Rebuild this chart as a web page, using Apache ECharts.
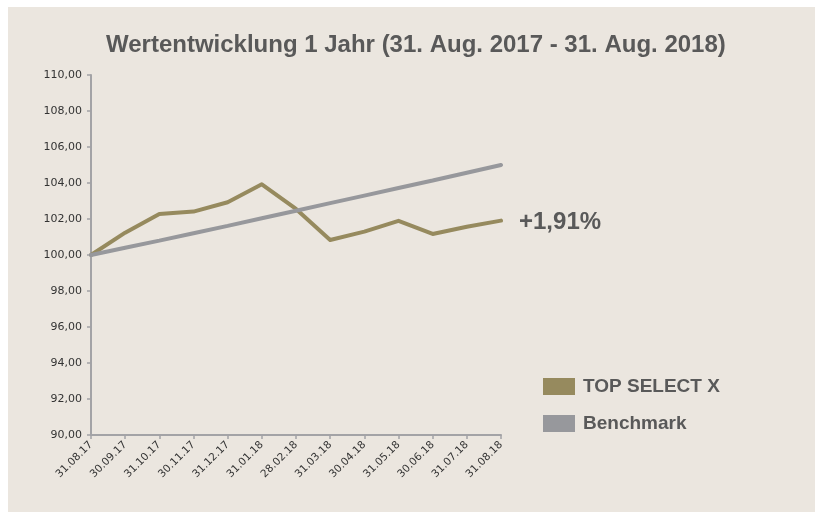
<!DOCTYPE html>
<html>
<head>
<meta charset="utf-8">
<script src="https://cdn.jsdelivr.net/npm/echarts@6/dist/echarts.min.js"></script>
<style>
	html, body { margin: 0; padding: 0; background: #ffffff; }
	#bg { position: absolute; left: 8px; top: 7px; width: 807px; height: 505px; background: #ebe6df; }
	#chart { position: absolute; left: 0; top: 0; width: 815px; height: 512px; }
</style>
</head>
<body>
<div id="bg"></div>
<div id="chart"></div>
<script>
var dates = ['31.08.17', '30.09.17', '31.10.17', '30.11.17', '31.12.17', '31.01.18', '28.02.18',
	'31.03.18', '30.04.18', '31.05.18', '30.06.18', '31.07.18', '31.08.18'];
var fundValues = [100.00, 101.24, 102.28, 102.41, 102.93, 103.93, 102.56, 100.83, 101.30, 101.90, 101.17, 101.57, 101.91];
var benchValues = [100.00, 100.40, 100.80, 101.21, 101.62, 102.04, 102.46, 102.88, 103.30, 103.72, 104.14, 104.57, 105.00];
var yTicks = [90, 92, 94, 96, 98, 100, 102, 104, 106, 108, 110];
var seriesNames = ['TOP SELECT X', 'Benchmark'];
var endText = '+1,91%';

var chart = echarts.init(document.getElementById('chart'));
var option = {
	animation: false,
	title: {
		text: 'Wertentwicklung 1 Jahr (31. Aug. 2017 - 31. Aug. 2018)',
		left: 101,
		top: 28,
		textStyle: {
			color: '#595959',
			fontFamily: 'Liberation Sans',
			fontWeight: 'bold',
			fontSize: 24
		}
	},
	legend: {
		orient: 'vertical',
		left: 538,
		top: 372,
		itemWidth: 32,
		itemHeight: 17,
		itemGap: 18,
		icon: 'rect',
		data: seriesNames,
		textStyle: {
			color: '#595959',
			fontFamily: 'Liberation Sans',
			fontWeight: 'bold',
			fontSize: 19,
			padding: [0, 0, 0, 3]
		}
	},
	grid: {
		left: 91,
		top: 75,
		width: 410,
		height: 360,
		containLabel: false
	},
	xAxis: {
		type: 'category',
		boundaryGap: false,
		data: dates,
		axisLine: { lineStyle: { color: '#a3a3a6', width: 2 } },
		axisTick: { show: true, length: 4, lineStyle: { color: '#a3a3a6', width: 1.5 } },
		axisLabel: {
			rotate: 45,
			interval: 0,
			color: '#333333',
			fontFamily: 'DejaVu Sans',
			fontSize: 10.5,
			margin: 8
		}
	},
	yAxis: {
		type: 'value',
		min: 90,
		max: 110,
		interval: 2,
		splitLine: { show: false },
		axisLine: { show: true, lineStyle: { color: '#a3a3a6', width: 2 } },
		axisTick: { show: true, length: 4, lineStyle: { color: '#a3a3a6', width: 1.5 } },
		axisLabel: {
			color: '#333333',
			fontFamily: 'DejaVu Sans',
			fontSize: 11,
			margin: 9,
			formatter: function (v) {
				return yTicks.indexOf(v) >= 0 ? v.toFixed(2).replace('.', ',') : '';
			}
		}
	},
	series: [{
		name: seriesNames[0],
		type: 'line',
		data: fundValues,
		symbol: 'none',
		itemStyle: { color: '#968a5e' },
		lineStyle: { color: '#968a5e', width: 4, cap: 'round', join: 'round' },
		endLabel: {
			show: true,
			formatter: endText,
			distance: 18,
			offset: [0, 2],
			color: '#595959',
			fontFamily: 'Liberation Sans',
			fontWeight: 'bold',
			fontSize: 24
		}
	}, {
		name: seriesNames[1],
		type: 'line',
		data: benchValues,
		symbol: 'none',
		itemStyle: { color: '#97989c' },
		lineStyle: { color: '#97989c', width: 4, cap: 'round' }
	}]
};
chart.setOption(option);
</script>
</body>
</html>
